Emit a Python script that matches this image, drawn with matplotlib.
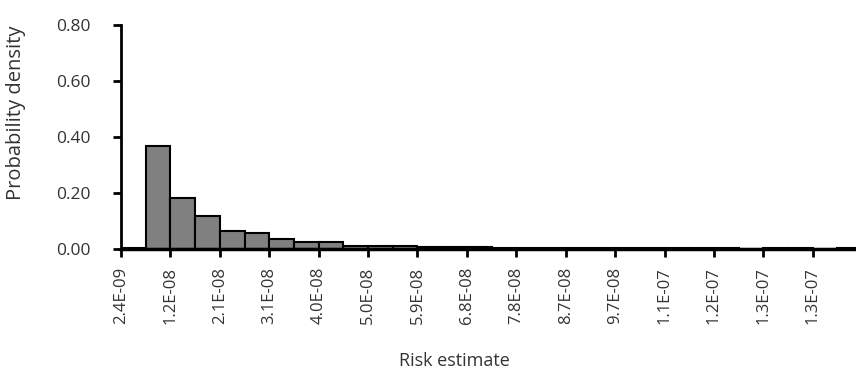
import numpy as np
import matplotlib
matplotlib.use("Agg")
import matplotlib.pyplot as plt

plt.rcParams['font.family'] = ['Open Sans', 'DejaVu Sans']

# histogram bin densities (one bar per bin, two bins between labelled ticks)
density = [0.003, 0.368, 0.181, 0.118, 0.065, 0.058, 0.035, 0.024, 0.024,
           0.012, 0.012, 0.012, 0.006, 0.006, 0.006,
           0.003, 0.003, 0.003, 0.003, 0.003, 0.003, 0.003, 0.003, 0.003, 0.003,
           0.0, 0.003, 0.003, 0.0, 0.003]

tick_labels = ['2.4E-09', '1.2E-08', '2.1E-08', '3.1E-08', '4.0E-08', '5.0E-08',
               '5.9E-08', '6.8E-08', '7.8E-08', '8.7E-08', '9.7E-08', '1.1E-07',
               '1.2E-07', '1.3E-07', '1.3E-07']
y_ticks = [0.0, 0.2, 0.4, 0.6, 0.8]

fig = plt.figure(figsize=(8.56, 3.75), dpi=100)
ax = fig.add_axes([121 / 856, 1 - 249 / 375, 735 / 856, 224 / 375])

x = np.arange(len(density))
ax.bar(x, density, width=1.0, align='edge', color='#808080',
       edgecolor='black', linewidth=1.5, zorder=2)

ax.set_xlim(0, 29.75)
ax.set_ylim(0, 0.8)

ax.set_xticks(np.arange(len(tick_labels)) * 2)
ax.set_xticklabels(tick_labels, rotation=90, fontsize=12)
ax.set_yticks(y_ticks)
ax.set_yticklabels(['%.2f' % v for v in y_ticks], fontsize=12.5)

ax.tick_params(axis='y', direction='out', length=6, width=2, pad=16, colors='black')
ax.tick_params(axis='x', direction='out', length=6, width=2, pad=7, colors='black')
for lbl in ax.get_xticklabels() + ax.get_yticklabels():
    lbl.set_color('#333333')

for side in ['top', 'right']:
    ax.spines[side].set_visible(False)
ax.spines['left'].set_linewidth(2)
ax.spines['bottom'].set_linewidth(2.5)
ax.spines['bottom'].set_zorder(3)

ax.set_xlabel('Risk estimate', fontsize=13, color='#333333')
ax.xaxis.set_label_coords(0.454, -0.46)
ax.set_ylabel('Probability density', fontsize=14.5, color='#333333')
ax.yaxis.set_label_coords(-0.129, 0.61)

fig.savefig('out.png', dpi=100)
